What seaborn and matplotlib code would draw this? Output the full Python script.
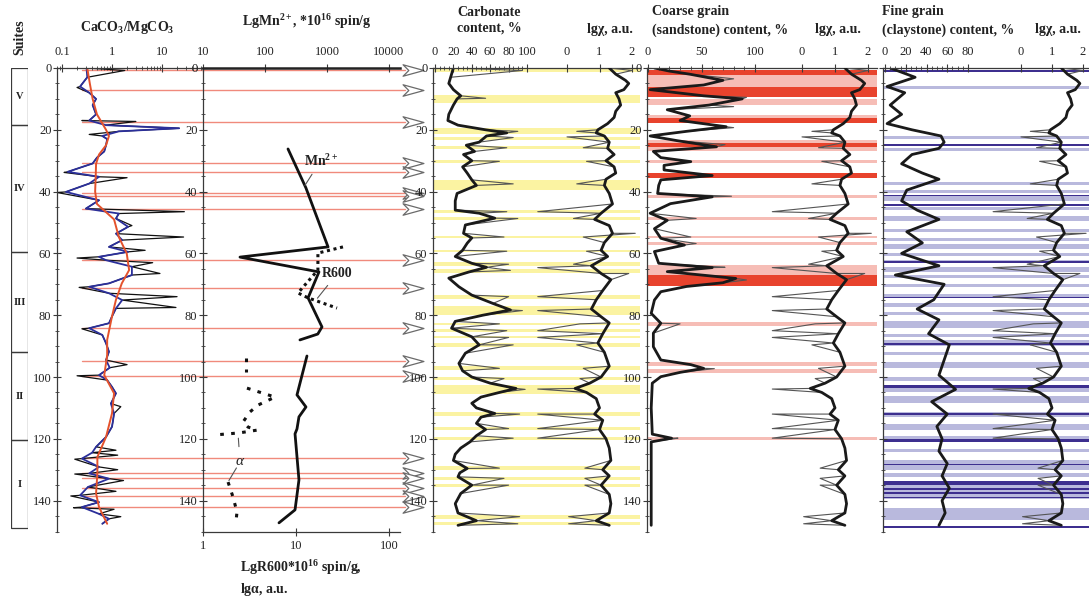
import numpy as np
import pandas as pd
import matplotlib
matplotlib.use("Agg")
import matplotlib.pyplot as plt
import matplotlib.ticker as mticker
from matplotlib.path import Path
from matplotlib.patches import Rectangle
import seaborn as sns

# ---------------- data ----------------
suite_names = ["V", "IV", "III", "II", "I"]
suite_tops = [0, 18.5, 59.5, 92, 120.5]
suite_bottoms = [18.5, 59.5, 92, 120.5, 149]

# CaCO3/MgCO3 ratio: trend (red), running mean (blue), raw excursions (black)
trend_depth = [0, 5, 10, 15, 20, 22, 25, 28, 31, 36, 40, 44, 49, 54.7, 60, 65.4, 69.7, 75,
               80.4, 88, 93, 99.4, 105.3, 111.8, 119.4, 125.9, 131.2, 137.7, 142.1, 147.5]
trend_ratio = [0.32, 0.36, 0.41, 0.5, 0.76, 0.87, 0.76, 0.55, 0.48, 0.47, 0.46, 0.5, 1.1, 1.37,
               1.97, 2.2, 1.57, 1.2, 1.0, 0.8, 0.8, 0.7, 1.1, 1.0, 0.76, 0.51, 0.51, 0.48, 0.55, 0.8]

ratio_depth = [0, 3, 6, 8, 10, 12, 15, 17, 18.5, 19.5, 20.5, 22, 23, 25, 27, 29, 30.9, 33.6, 35.2,
               37.4, 40.1, 42.8, 45.5, 47.1, 48.7, 51.4, 53.6, 55.7, 57.9, 59.5, 61.1, 62.2, 64.3,
               67, 69.7, 70.8, 72.9, 75.1, 77.8, 80.4, 82.6, 84.2, 86.4, 89.1, 91.8, 94.5, 97, 99.4,
               101, 103.2, 105.3, 108.6, 111.8, 114, 116.1, 119.4, 122.6, 124.5, 126.4, 129.1,
               131.2, 132.9, 135.6, 138.3, 140.5, 142.1, 144.3, 145.9, 147.5]
ratio_mean = [0.31, 0.32, 0.23, 0.35, 0.48, 0.41, 0.48, 0.35, 0.76, 22, 1.37, 0.64, 0.8, 0.76,
              0.7, 0.5, 0.41, 0.13, 0.55, 0.35, 0.12, 0.55, 0.3, 1.37, 1.2, 2.1, 1.2, 1.6, 0.87,
              2.1, 0.55, 0.76, 2.5, 2.5, 0.87, 0.35, 0.87, 1.6, 1.2, 1.0, 0.87, 0.35, 0.64, 0.76,
              0.87, 0.76, 0.9, 0.55, 0.8, 1.0, 1.2, 0.95, 1.1, 1.05, 1.0, 0.76, 0.48, 0.4, 0.25,
              0.55, 0.35, 0.87, 0.33, 0.23, 0.55, 0.25, 0.55, 0.87, 0.64]
ratio_peak_depth = [0.8, 17.3, 35.5, 46.5, 51, 54.7, 59, 63, 66.5, 74, 77.5, 96, 109.6, 123.7,
                    125.3, 130, 133.5, 137, 142.8, 145.2, 6.3, 17.0, 21.5, 33.8, 40.3, 61.5, 71,
                    84.4, 99.6, 126.6, 131.4, 138.5, 142.3]
ratio_peak = [1.8, 3.0, 2.0, 28, 2.5, 27, 4.6, 6.5, 9.1, 20, 19, 2.0, 1.5, 1.2, 1.3, 1.3, 1.7,
              1.2, 1.1, 1.5, 0.2, 0.25, 0.35, 0.11, 0.08, 0.2, 0.22, 0.25, 0.2, 0.18, 0.18, 0.15,
              0.17]

# horizons marked across the ratio and EPR panels
horizon_depth = [0.6, 7.1, 17.5, 30.8, 33.8, 40.4, 41.4, 45.5, 62.1, 71.1, 84.1, 94.7, 99.6,
                 126.1, 131.0, 132.6, 136.0, 138.4, 142.1]

# EPR: Mn2+ (top scale), R600 and alpha (bottom scale)
mn_seg = [0] * 9 + [1] * 9
mn_depth = [26.2, 38.8, 57.9, 61.2, 66.0, 74.4, 83.8, 86.1, 88.0,
            93.2, 105.8, 109.7, 112.9, 116.8, 118.4, 133.3, 143.0, 147.2]
mn_value = [235, 457, 1040, 39.5, 742, 495, 830, 710, 366,
            475, 328, 458, 353, 328, 305, 353, 305, 168]
r600_depth = [57.9, 59.9, 65.4, 72.8, 74.4, 77.7]
r600_value = [32, 17.2, 17.2, 10.5, 13.5, 27.6]
alpha_seg = [0, 0, 1, 1, 1, 1, 1, 1, 1, 1, 1, 2, 2, 2, 2]
alpha_depth = [93.9, 98.4, 103.6, 106.5, 109.1, 111.3, 114.6, 116.2, 117.2, 118.1, 118.8,
               134.0, 138.8, 143.7, 146.9]
alpha_value = [2.9, 2.9, 2.97, 5.95, 3.9, 3.2, 2.69, 3.05, 3.8, 2.44, 1.28, 1.86, 2.1, 2.32, 2.26]

# magnetic susceptibility lg(chi), shared by the three lithology panels
chi_depth = [0, 2, 4, 5, 7, 8, 10, 12, 14, 16, 18, 20, 21, 22, 24, 26, 28, 30, 32, 34, 36, 38,
             40.6, 44, 47, 49, 51, 53.5, 56.5, 59, 61, 64, 66.5, 68.5, 72, 75, 78, 80.5, 82.5, 86,
             89, 92, 96.5, 100, 102, 103.7, 105, 107, 110, 112, 114, 117, 120, 123, 127, 130,
             132, 135, 138, 141, 144, 146.5, 148]
chi_smooth = [1.3, 1.5, 1.8, 1.9, 1.75, 1.5, 1.6, 1.65, 1.5, 1.45, 1.25, 0.95, 0.9, 1.15, 1.3,
              1.25, 1.45, 1.2, 1.45, 1.5, 1.2, 1.15, 1.3, 1.4, 1.05, 0.85, 1.3, 1.4, 1.15, 1.05,
              1.25, 0.75, 1.05, 1.35, 1.1, 0.9, 0.75, 1.05, 1.3, 1.1, 0.95, 1.15, 1.3, 1.05, 0.7,
              0.25, 0.6, 0.9, 1.0, 0.85, 1.1, 1.0, 1.2, 1.3, 1.35, 1.1, 1.3, 1.05, 1.3, 1.35, 1.3,
              0.9, 1.3]
chi_peak_depth = [0.8, 20.5, 22.3, 25.8, 30.2, 37.5, 46.5, 48.7, 53.5, 54.7, 59.3, 63.5, 64.6,
                  66.5, 74, 78.5, 82.8, 85, 87.2, 89.6, 97.2, 100.5, 103.9, 112, 116.7, 119.8,
                  129.5, 132.8, 135, 145.2, 147.5]
chi_peak = [2.0, 0.3, 0.0, 0.5, 0.6, 0.3, -0.9, 0.2, 2.1, 0.5, 0.6, 0.2, -0.9, 1.9, -0.9, -0.9,
            0.4, -0.9, -0.9, 0.3, 0.5, 0.4, -0.9, -0.9, -0.9, -0.9, 0.55, 0.55, 0.55, 0.05, 0.05]

# carbonate content, %
carb_depth = [0, 3, 5, 7, 9, 10, 12, 15, 17, 18.5, 20, 21, 22, 24, 25, 27, 28, 30, 32, 34, 36.2,
              38, 40.6, 43, 46, 47, 48.6, 50.8, 53.5, 55, 56.7, 59, 61, 63.2, 64.5, 66, 68, 70.8,
              73.5, 76.2, 78.3, 80, 82, 84.2, 87, 89.6, 92.3, 95.6, 98, 100, 102, 103.7, 105,
              106.5, 108.5, 110, 111.8, 113, 115, 117, 119, 121, 123, 125, 127, 129.6, 131,
              132.3, 135, 137.7, 141, 144, 146.5, 148]
carb_smooth = [20, 17, 15, 20, 28, 24, 20, 15, 14, 25, 55, 78, 56, 48, 34, 43, 31, 40, 30, 35,
               40, 45, 24, 22, 22, 48, 65, 33, 31, 40, 35, 30, 22, 40, 56, 37, 15, 26, 40, 63, 82,
               52, 22, 18, 40, 48, 33, 26, 30, 40, 60, 88, 70, 50, 40, 45, 65, 50, 45, 55, 45, 38,
               28, 22, 20, 35, 27, 25, 40, 28, 22, 25, 45, 25]
carb_peak_depth = [0.8, 9.8, 20.5, 22.5, 25.8, 30.2, 37.5, 46.5, 48.7, 54.7, 59.3, 63.5, 65.5,
                   74, 78.5, 82.8, 85, 87.2, 89.6, 97.2, 100.5, 104, 112, 116.7, 119.8, 129.5,
                   132.8, 135, 145.2, 147.5]
carb_peak = [95, 55, 90, 85, 78, 70, 85, 78, 90, 75, 78, 80, 82, 80, 95, 70, 78, 80, 85, 70, 75,
             98, 92, 80, 85, 70, 75, 80, 92, 90]
carb_layers = [(0, 1.3), (8.7, 11.3), (19.4, 21.4), (22.3, 23.3), (25.2, 26.2), (29.8, 30.7),
               (36.2, 39.5), (46.0, 47.0), (48.3, 49.1), (54.3, 55.1), (58.9, 59.7), (62.7, 64.1),
               (64.9, 66.3), (73.5, 74.6), (77.0, 80.0), (82.4, 83.2), (84.6, 85.4), (86.8, 87.5),
               (89.0, 90.2), (96.6, 97.7), (99.9, 101.0), (102.6, 105.5), (111.3, 112.7),
               (116.2, 117.2), (119.3, 120.4), (128.8, 130.2), (132.3, 133.4), (134.5, 135.6),
               (144.7, 145.8), (146.9, 148.0)]

# coarse grain (sandstone) content, %
sand_depth = [0, 1, 2, 4, 5.5, 7, 9, 10, 12, 13.5, 15.5, 17, 19, 20.5, 22, 23.5, 25.5, 27, 29,
              30.3, 31.5, 33, 34.8, 36.2, 38, 40.6, 41.7, 43.9, 47, 49.3, 52, 55.1, 57.3, 59.4,
              63.2, 64.6, 65.9, 67, 68.1, 69.5, 70.7, 72.4, 75.1, 79.4, 82.6, 85.8, 90.2, 94.5,
              96, 97.2, 98.5, 99.9, 102, 110, 118.5, 119.8, 121, 130, 140, 148]
sand_smooth = [6, 20, 39, 70, 52, 2, 52, 88, 57, 18, 39, 30, 73, 36, 2, 27, 64, 5, 12, 40, 15,
               15, 60, 12, 10, 9, 60, 21, 2, 18, 6, 12, 34, 6, 10, 60, 18, 50, 82, 70, 36, 12, 6,
               3, 12, 5, 5, 12, 40, 52, 30, 12, 4, 3, 4, 22, 3, 3, 3, 3]
sand_peak_depth = [3.5, 9.5, 12.5, 19.3, 24.8, 41.5, 48.7, 54.7, 56.8, 64.5, 68.6, 82.8, 97.3,
                   119.8]
sand_peak = [80, 92, 80, 80, 72, 78, 45, 40, 45, 72, 92, 30, 62, 28]
sand_rich = [(0.6, 2.3), (6.1, 9.4), (16.2, 17.9), (24.3, 25.5), (34.0, 35.6), (67.0, 70.7)]
sand_poor = [(2.3, 6.1), (10, 12), (15.2, 16.2), (23.3, 24.3), (25.5, 26.8), (29.8, 30.7),
             (41.1, 42.2), (48.3, 49.1), (54.3, 55.1), (56.4, 57.3), (63.8, 67.0), (82.3, 83.4),
             (95.3, 96.6), (97.3, 98.8), (119.3, 120.3)]

# fine grain (claystone) content, %
clay_depth = [0, 3, 6, 8, 12, 15, 18, 20, 22, 24, 26, 28, 31, 34, 36, 39.5, 43, 46, 49, 53,
              56.6, 60, 64, 67, 70, 75, 78, 81.5, 86, 89.6, 94.5, 99.4, 104, 108, 112, 116, 120,
              124, 128, 132, 136, 140, 144, 148]
clay_smooth = [5, 29, 2, 19, 5, 16, 2, 26, 54, 57, 52, 26, 16, 36, 52, 21, 16, 31, 52, 21, 36,
               16, 52, 10, 57, 47, 31, 52, 42, 62, 57, 52, 68, 45, 60, 50, 55, 52, 60, 55, 62, 55,
               58, 52]
clay_light = [(5.8, 6.8), (22, 23), (25.9, 26.8), (37, 38), (39.5, 40.5), (41.5, 43), (45, 46),
              (48, 49.5), (52, 53), (55, 56), (57, 58.5), (60, 61), (62, 63), (64.5, 66), (67, 68),
              (70, 71), (73, 74), (76, 77.5), (79, 80), (82, 84), (86, 87), (88, 90), (92, 93),
              (95, 97), (99.9, 101.2), (102.5, 105), (106, 108.5), (111.3, 113), (115.3, 117),
              (119, 121), (123.2, 124.3), (127, 130), (131, 132.5), (133.5, 139.5), (142.3, 146.2)]
clay_dark = [(0.5, 1.3), (24.6, 25.2), (41, 41.5), (44, 44.5), (62.5, 63), (74, 74.5), (89, 89.5),
             (102.7, 103.4), (111.7, 112.2), (120, 121), (128, 128.5), (133.8, 135), (136, 136.5),
             (137.3, 138), (138.7, 139.2), (148.2, 149)]

# ---------------- style ----------------
sns.set_theme(style="ticks")
plt.rcParams["font.family"] = ["Liberation Serif", "DejaVu Serif"]
plt.rcParams["mathtext.fontset"] = "custom"
plt.rcParams["mathtext.rm"] = "Liberation Serif"
plt.rcParams["mathtext.bf"] = "Liberation Serif:bold"
plt.rcParams["mathtext.it"] = "Liberation Serif:italic"

W, H = 1089, 596
Y0, Y1 = 68, 531.5
DMAX = 150
INK = "#3a3a3a"
YELLOW = "#fbf3a2"
RED_RICH = "#e8432d"
RED_POOR = "#f6bdb6"
VIOLET_LIGHT = "#b9b9dd"
VIOLET_DARK = "#3d2f8f"
HORIZON = "#f08a7c"

fig = plt.figure(figsize=(W / 100, H / 100), dpi=100)
fig.patch.set_facecolor("white")


def panel(x0, x1):
    return fig.add_axes([x0 / W, 1 - Y1 / H, (x1 - x0) / W, (Y1 - Y0) / H])


def lin_lim(x0, x1, pa, a, pb, b):
    k = (b - a) / (pb - pa)
    return a + (x0 - pa) * k, a + (x1 - pa) * k


def log_lim(x0, x1, pa, a, pb, b):
    lo, hi = lin_lim(x0, x1, pa, np.log10(a), pb, np.log10(b))
    return 10 ** lo, 10 ** hi


def ftext(x, y, s, **kw):
    kw.setdefault("fontsize", 10)
    kw.setdefault("fontweight", "bold")
    kw.setdefault("color", "#222")
    fig.text(x / W, 1 - y / H, s, **kw)


def depth_axis(ax, labels=True):
    ax.set_ylim(DMAX, 0)
    ax.yaxis.set_major_locator(mticker.FixedLocator(np.arange(0, 141, 20)))
    ax.yaxis.set_minor_locator(mticker.FixedLocator(np.arange(0, 151, 5)))
    ax.tick_params(axis="y", which="major", left=True, right=False, direction="inout",
                   length=6, width=0.8, color=INK, labelsize=9, pad=1,
                   labelleft=labels, labelcolor="#222")
    ax.tick_params(axis="y", which="minor", left=True, right=False, direction="inout",
                   length=3.5, width=0.6, color=INK)
    ax.set_ylabel("")


def top_axis(ax, major, labels, minor=None):
    ax.xaxis.set_ticks_position("top")
    ax.xaxis.set_label_position("top")
    ax.xaxis.set_major_locator(mticker.FixedLocator(major))
    ax.xaxis.set_major_formatter(mticker.FixedFormatter(labels))
    if minor is not None:
        ax.xaxis.set_minor_locator(mticker.FixedLocator(minor))
    else:
        ax.xaxis.set_minor_locator(mticker.NullLocator())
    ax.tick_params(axis="x", which="major", top=True, bottom=False, labeltop=True,
                   labelbottom=False, direction="inout", length=6, width=0.8, color=INK,
                   labelsize=9, pad=4, labelcolor="#222")
    ax.tick_params(axis="x", which="minor", top=True, bottom=False, direction="inout",
                   length=3.5, width=0.6, color=INK)
    ax.set_xlabel("")


def frame(ax, left=True, top=True):
    for side in ("right", "bottom"):
        ax.spines[side].set_visible(False)
    ax.spines["left"].set_visible(left)
    ax.spines["top"].set_visible(top)
    for side in ("left", "top"):
        ax.spines[side].set_color(INK)
        ax.spines[side].set_linewidth(0.9)
    ax.set_facecolor("none")
    ax.grid(False)


def merged(d_main, v_main, d_extra, v_extra):
    df = pd.DataFrame({"depth": list(d_main) + list(d_extra),
                       "value": list(v_main) + list(v_extra)})
    return df.sort_values("depth", kind="stable").reset_index(drop=True)


def trace(ax, x, y, **kw):
    sns.lineplot(x=x, y=y, sort=False, estimator=None, ax=ax, legend=False, **kw)


# ---------------- suites column ----------------
ax_su = panel(11, 28)
ax_su.set_xlim(0, 1)
ax_su.set_ylim(DMAX, 0)
ax_su.axis("off")
for name, top, bot in zip(suite_names, suite_tops, suite_bottoms):
    ax_su.add_patch(Rectangle((0, top), 1, bot - top, fill=False, ec=INK, lw=0.9))
    ax_su.text(0.5, (top + bot) / 2, name, ha="center", va="center", fontsize=7.5,
               fontweight="bold", color="#222")
ftext(20, 37, "Suites", rotation=90, ha="center", va="center")

# ---------------- CaCO3/MgCO3 ----------------
CA_X0, CA_X1 = 57, 203
ax_ca = panel(CA_X0, CA_X1)
ax_ca.set_xscale("log")
raw = merged(ratio_depth, ratio_mean, ratio_peak_depth, ratio_peak)
trace(ax_ca, raw["value"], raw["depth"], color="#111", lw=0.9)
trace(ax_ca, ratio_mean, ratio_depth, color="#2b2f9a", lw=1.3)
trace(ax_ca, trend_ratio, trend_depth, color="#e4522c", lw=1.4)
ax_ca.set_xlim(*log_lim(CA_X0, CA_X1, 62, 0.1, 112, 1))
top_axis(ax_ca, [0.1, 1, 10], ["0.1", "1", "10"],
         minor=[m * 10.0 ** e for e in (-2, -1, 0, 1) for m in range(2, 10)])
depth_axis(ax_ca)
frame(ax_ca)
ca_start = (82 - CA_X0) / (CA_X1 - CA_X0)
for d in horizon_depth:
    ax_ca.axhline(d, xmin=ca_start, xmax=1, color=HORIZON, lw=1.0, zorder=0.5)
ftext(127, 27, r"CaCO$_\mathbf{3}$/MgCO$_\mathbf{3}$", ha="center", va="center")

# ---------------- EPR panel ----------------
MN_X0, MN_X1 = 203, 400
ax_mn = panel(MN_X0, MN_X1)
ax_r = ax_mn.twiny()
ax_mn.set_xscale("log")
ax_r.set_xscale("log")

trace(ax_mn, mn_value, mn_depth, units=mn_seg, color="#111", lw=2.0)
ax_mn.set_xlim(*log_lim(MN_X0, MN_X1, 203, 10, 327, 1000))
top_axis(ax_mn, [10, 100, 1000, 10000], ["10", "100", "1000", "10000"])
depth_axis(ax_mn)
frame(ax_mn)
ax_mn.spines["top"].set_linewidth(1.8)
ax_mn.spines["top"].set_color("#222")

trace(ax_r, r600_value, r600_depth, color="#111", lw=2.2, linestyle=(0, (1, 1.2)))
trace(ax_r, alpha_value, alpha_depth, units=alpha_seg, color="#111", lw=2.2,
      linestyle=(0, (1.2, 2.4)))
ax_r.set_xlim(*log_lim(MN_X0, MN_X1, 203, 1, 389, 100))
ax_r.set_ylim(DMAX, 0)
ax_r.xaxis.set_ticks_position("bottom")
ax_r.xaxis.set_label_position("bottom")
ax_r.xaxis.set_major_locator(mticker.FixedLocator([1, 10, 100]))
ax_r.xaxis.set_major_formatter(mticker.FixedFormatter(["1", "10", "100"]))
ax_r.xaxis.set_minor_locator(mticker.NullLocator())
ax_r.tick_params(axis="x", which="major", bottom=True, top=False, labelbottom=True,
                 labeltop=False, direction="inout", length=6, width=0.8, color=INK,
                 labelsize=9, pad=3, labelcolor="#222")
ax_r.set_xlabel("")
ax_r.set_ylabel("")
ax_r.tick_params(axis="y", left=False, right=False, labelleft=False, labelright=False)
for side in ("top", "left", "right"):
    ax_r.spines[side].set_visible(False)
ax_r.spines["bottom"].set_color(INK)
ax_r.spines["bottom"].set_linewidth(0.9)
ax_r.set_facecolor("none")

for d in horizon_depth:
    ax_mn.axhline(d, xmin=0, xmax=(405 - MN_X0) / (MN_X1 - MN_X0), color=HORIZON, lw=1.0,
                  zorder=0.5, clip_on=False)

# open arrowheads marking the horizons
arrow_path = Path([(-1.0, 0.55), (1.0, 0.0), (-1.0, -0.55), (-0.45, 0.0), (-1.0, 0.55)],
                  [Path.MOVETO, Path.LINETO, Path.LINETO, Path.LINETO, Path.CLOSEPOLY])
ax_mn.plot([(413 - MN_X0) / (MN_X1 - MN_X0)] * len(horizon_depth), horizon_depth,
           transform=ax_mn.get_yaxis_transform(), ls="none", marker=arrow_path, ms=15,
           mfc="white", mec="#6a6a6a", mew=0.9, clip_on=False, zorder=5)

ax_mn.annotate("Mn$^{\\mathbf{2+}}$", xy=(440, 38.0), xytext=(420, 30.0), fontsize=10,
               fontweight="bold", color="#222", ha="left", va="center",
               arrowprops=dict(arrowstyle="-", color="#555", lw=0.8, shrinkA=2, shrinkB=0))
ax_r.annotate("R600", xy=(17, 74.5), xytext=(19, 66.5), fontsize=10, fontweight="bold",
              color="#222", ha="left", va="center",
              arrowprops=dict(arrowstyle="-", color="#555", lw=0.8, shrinkA=2, shrinkB=0))
ax_r.annotate(r"$\alpha$", xy=(2.4, 119.8), xytext=(2.5, 127.5), fontsize=11, color="#222",
              ha="center", va="center",
              arrowprops=dict(arrowstyle="-", color="#555", lw=0.8, shrinkA=4, shrinkB=0))
ax_r.annotate("", xy=(1.9, 133.5), xytext=(2.5, 127.5),
              arrowprops=dict(arrowstyle="-", color="#555", lw=0.8, shrinkA=5, shrinkB=0))

ftext(307, 22, r"LgMn$^{\mathbf{2+}}$, *10$^{\mathbf{16}}$ spin/g", ha="center", va="center")
ftext(240, 568, r"LgR600*10$^{\mathbf{16}}$ spin/g,", ha="left", va="center")
ftext(240, 589, r"lg$\mathbf{\alpha}$, a.u.", ha="left", va="center")


# ---------------- lithology panels ----------------
def litho_panel(x0, x1, pct_map, pct_ticks, pct_minor, chi_map, d_s, v_s, d_p, v_p,
                labels=True):
    ax = panel(x0, x1)
    axc = ax.twiny()
    raw_pct = merged(d_s, v_s, d_p, v_p)
    trace(ax, raw_pct["value"], raw_pct["depth"], color="#555", lw=0.8)
    trace(ax, v_s, d_s, color="#1a1a1a", lw=2.0)
    raw_chi = merged(chi_depth, chi_smooth, chi_peak_depth, chi_peak)
    trace(axc, raw_chi["value"], raw_chi["depth"], color="#555", lw=0.8)
    trace(axc, chi_smooth, chi_depth, color="#1a1a1a", lw=2.0)
    ax.set_xlim(*lin_lim(x0, x1, *pct_map))
    axc.set_xlim(*lin_lim(x0, x1, *chi_map))
    axc.set_ylim(DMAX, 0)
    top_axis(ax, pct_ticks, [str(t) for t in pct_ticks], minor=pct_minor)
    top_axis(axc, [0, 1, 2], ["0", "1", "2"])
    depth_axis(ax, labels)
    axc.set_ylabel("")
    axc.tick_params(axis="y", left=False, right=False, labelleft=False, labelright=False)
    frame(ax)
    for side in ("top", "left", "right", "bottom"):
        axc.spines[side].set_visible(False)
    axc.set_facecolor("none")
    return ax, axc


# carbonate
ax_cb, _ = litho_panel(433, 640, (435, 0, 527, 100), [0, 20, 40, 60, 80, 100],
                       list(range(0, 101, 5)), (567, 0, 632, 2),
                       carb_depth, carb_smooth, carb_peak_depth, carb_peak)
for d0, d1 in carb_layers:
    ax_cb.axhspan(d0, d1, color=YELLOW, lw=0, zorder=0)
ftext(457, 12, "Carbonate", ha="left", va="center")
ftext(457, 28, "content, %", ha="left", va="center")
ftext(610, 29, "lgχ, a.u.", ha="center", va="center")

# coarse grain
ax_sd, _ = litho_panel(647, 877, (648, 0, 755, 100), [0, 50, 100],
                       list(range(0, 101, 10)), (802, 0, 868, 2),
                       sand_depth, sand_smooth, sand_peak_depth, sand_peak)
for d0, d1 in sand_poor:
    ax_sd.axhspan(d0, d1, color=RED_POOR, lw=0, zorder=0)
for d0, d1 in sand_rich:
    ax_sd.axhspan(d0, d1, color=RED_RICH, lw=0, zorder=0)
ftext(652, 12, "Coarse grain", ha="left", va="center")
ftext(652, 30, "(sandstone) content, %", ha="left", va="center")
ftext(838, 30, "lgχ, a.u.", ha="center", va="center")

# fine grain
ax_cl, _ = litho_panel(883, 1095, (885, 0, 968, 80), [0, 20, 40, 60, 80],
                       list(range(0, 81, 5)), (1021, 0, 1083, 2),
                       clay_depth, clay_smooth, [], [], labels=False)
for d0, d1 in clay_light:
    ax_cl.axhspan(d0, d1, color=VIOLET_LIGHT, lw=0, zorder=0)
for d0, d1 in clay_dark:
    ax_cl.axhspan(d0, d1, color=VIOLET_DARK, lw=0, zorder=0)
ftext(882, 12, "Fine grain", ha="left", va="center")
ftext(882, 30, "(claystone) content, %", ha="left", va="center")
ftext(1058, 30, "lgχ, a.u.", ha="center", va="center")

fig.savefig("out.png", dpi=100, facecolor="white")
